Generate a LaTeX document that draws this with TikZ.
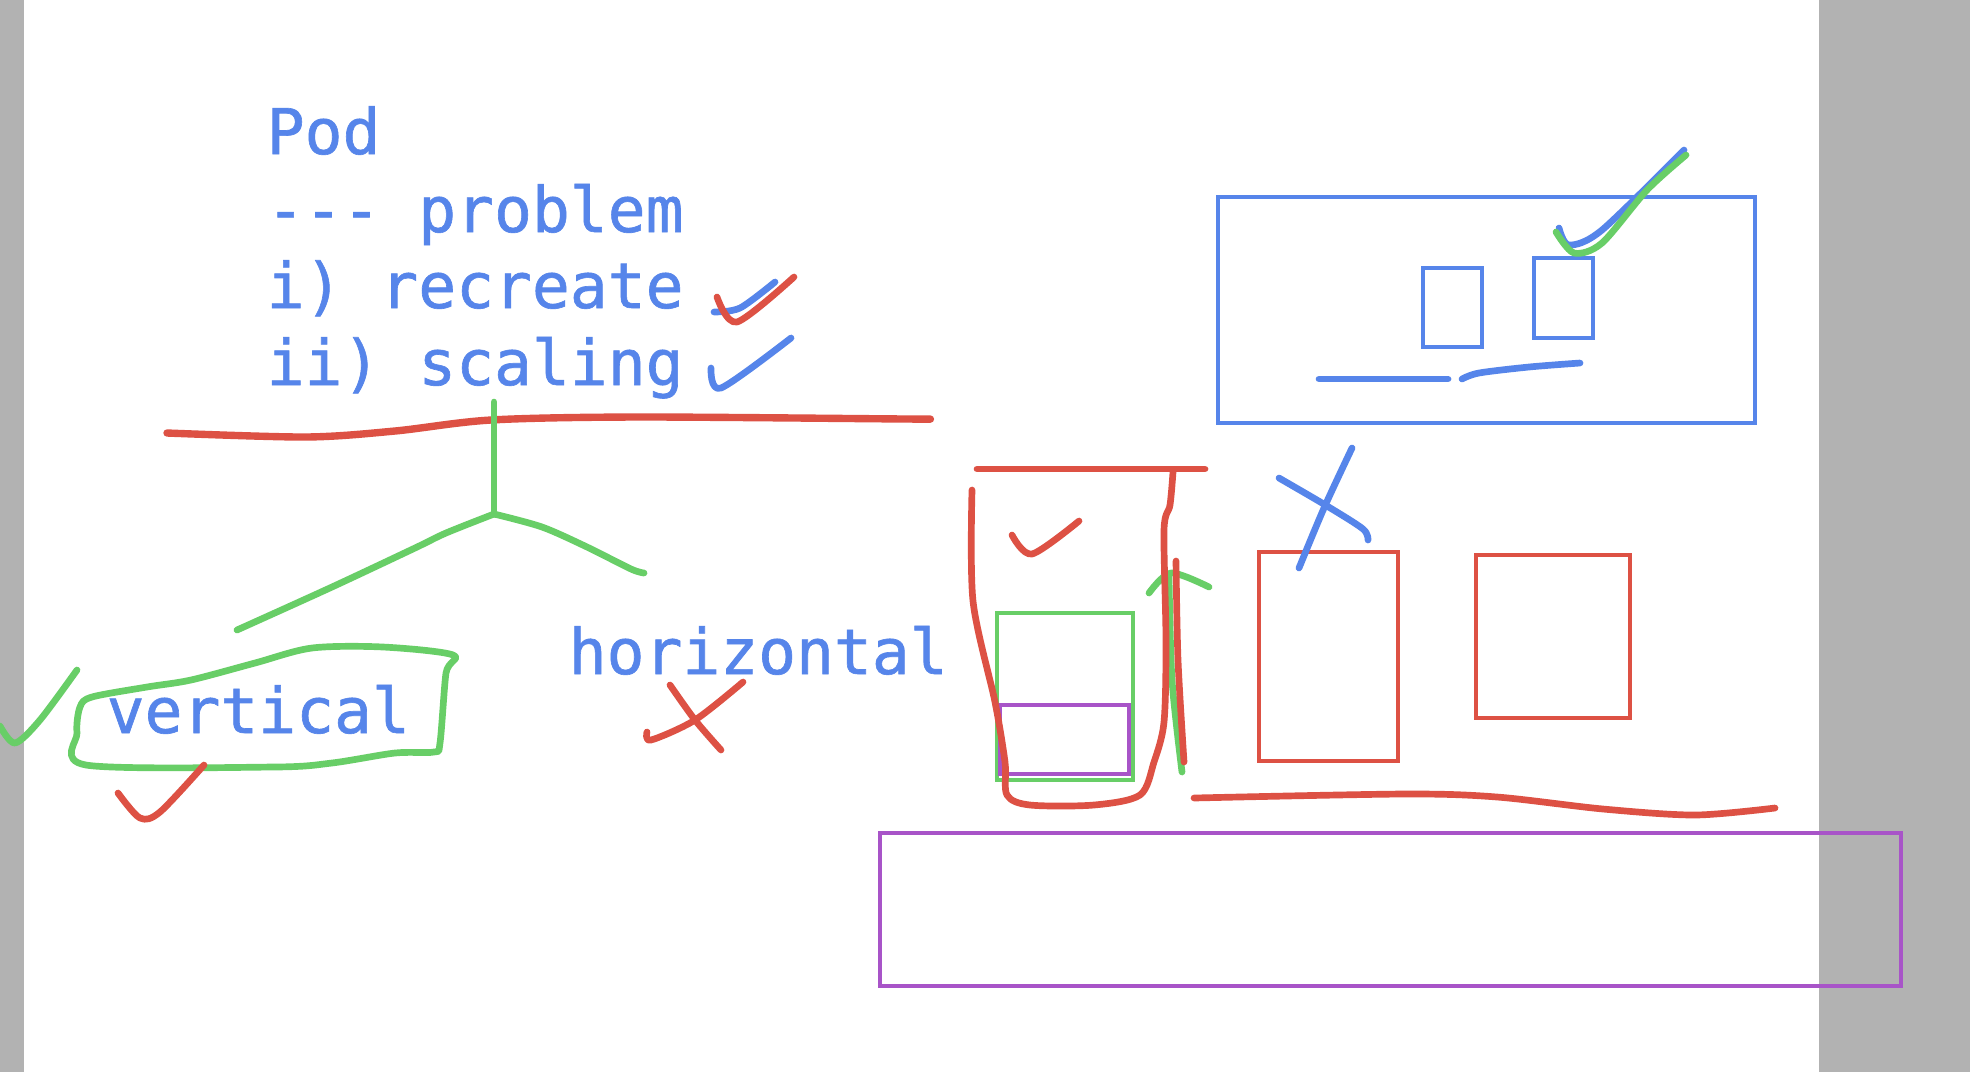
\documentclass[tikz,border=0pt]{standalone}
\usepackage{fontspec}
\newfontfamily\boardfont[FakeBold=1]{DejaVu Sans Mono}
\definecolor{penblue}{RGB}{86,133,234}
\definecolor{penred}{RGB}{221,81,68}
\definecolor{pengreen}{RGB}{104,206,103}
\definecolor{penpurple}{RGB}{168,84,200}
\definecolor{sidegray}{RGB}{178,178,178}
\begin{document}
\begin{tikzpicture}[x=0.01cm,y=-0.01cm,
  ink/.style={line width=1.9pt, line cap=round, line join=round},
  boxline/.style={line width=1.3pt},
  boardtext/.style={text=penblue, anchor=base west, inner sep=0pt,
    font=\boardfont\fontsize{17.9}{20}\selectfont}]
\useasboundingbox (0,0) rectangle (1970,1072);
\fill[white] (0,0) rectangle (1970,1072);
\fill[sidegray] (0,0) rectangle (24,1072);
\fill[sidegray] (1819,0) rectangle (1970,1072);
% notes
\node[boardtext] (pod) at (266,154) {Pod};
\node[boardtext] (problem) at (266,232) {-{}-{}- problem};
\node[boardtext] (recreate) at (266,308) {i) recreate};
\node[boardtext] (scaling) at (266,385) {ii) scaling};
\node[boardtext] (vertical) at (106,733) {vertical};
\node[boardtext] (horizontal) at (568,674) {horizontal};
\draw[ink, penblue] plot[smooth] coordinates {(714,312) (740,308) (775,282)};
\draw[ink, penred] plot[smooth] coordinates {(717,297) (737,322) (794,277)};
\draw[ink, penblue] plot[smooth] coordinates {(711,368) (721,388) (791,338)};
% split line and tree
\draw[ink, penred, line width=2.1pt] plot[smooth] coordinates {(167,433) (306,437) (395,431) (491,420) (638,417) (906,419) (925,419)};
\draw[ink, pengreen] (494,402) -- (494,514);
\draw[ink, pengreen] plot[smooth] coordinates {(494,514) (446,533) (415,548) (332,587) (237,630)};
\draw[ink, pengreen] plot[smooth] coordinates {(494,514) (542,527) (587,547) (631,569) (644,573)};
% vertical circled
\draw[ink, pengreen] plot[smooth cycle] coordinates {(92,697) (147,687) (191,680) (255,663) (312,648) (383,647) (453,655) (446,673) (440,743) (434,752) (395,753) (332,763) (274,767) (86,765) (77,733) (80,707)};
\draw[ink, pengreen] plot[smooth] coordinates {(77,670) (40,720) (15,743) (0,726)};
\draw[ink, penred] plot[smooth] coordinates {(118,793) (140,818) (160,812) (204,765)};
\draw[ink, penred] plot[smooth] coordinates {(670,685) (695,720) (721,750)};
\draw[ink, penred] plot[smooth] coordinates {(743,682) (695,720) (651,740) (647,732)};
% node box
\draw[boxline, penblue] (1218,197) rectangle (1755,423);
\draw[boxline, penblue] (1423,268) rectangle (1482,347);
\draw[boxline, penblue] (1534,258) rectangle (1593,338);
\draw[ink, penblue] (1319,379) -- (1448,379);
\draw[ink, penblue] plot[smooth] coordinates {(1462,379) (1479,373) (1529,367) (1580,363)};
\draw[ink, penblue] plot[smooth] coordinates {(1559,228) (1569,245) (1602,230) (1684,150)};
\draw[ink, pengreen] plot[smooth] coordinates {(1556,232) (1574,253) (1602,243) (1647,190) (1686,155)};
% vertical scaling pod
\draw[boxline, pengreen] (997,613) rectangle (1133,780);
\draw[boxline, penpurple] (1000,705) rectangle (1129,774);
\draw[ink, pengreen] plot[smooth] coordinates {(1149,593) (1171,573) (1209,587)};
\draw[ink, pengreen] plot[smooth] coordinates {(1169,577) (1172,680) (1182,772)};
\draw[ink, penred] (977,469) -- (1205,469);
\draw[ink, penred] plot[smooth] coordinates {(972,490) (973,601) (995,702) (1005,762) (1007,795) (1030,805) (1094,805) (1140,795) (1154,762) (1164,722) (1166,642) (1164,530) (1170,505) (1173,472)};
\draw[ink, penred] plot[smooth] coordinates {(1176,561) (1178,660) (1184,762)};
\draw[ink, penred] plot[smooth] coordinates {(1012,535) (1032,554) (1079,521)};
% horizontal scaling pods
\draw[boxline, penred] (1259,552) rectangle (1398,761);
\draw[boxline, penred] (1476,555) rectangle (1630,718);
\draw[ink, penblue] plot[smooth] coordinates {(1352,448) (1324,508) (1299,568)};
\draw[ink, penblue] plot[smooth] coordinates {(1279,478) (1327,506) (1363,529) (1368,540)};
\draw[ink, penred] plot[smooth] coordinates {(1194,798) (1405,794) (1497,797) (1603,809) (1695,815) (1775,808)};
% node pool
\draw[boxline, penpurple] (880,833) rectangle (1901,986);
\end{tikzpicture}
\end{document}
